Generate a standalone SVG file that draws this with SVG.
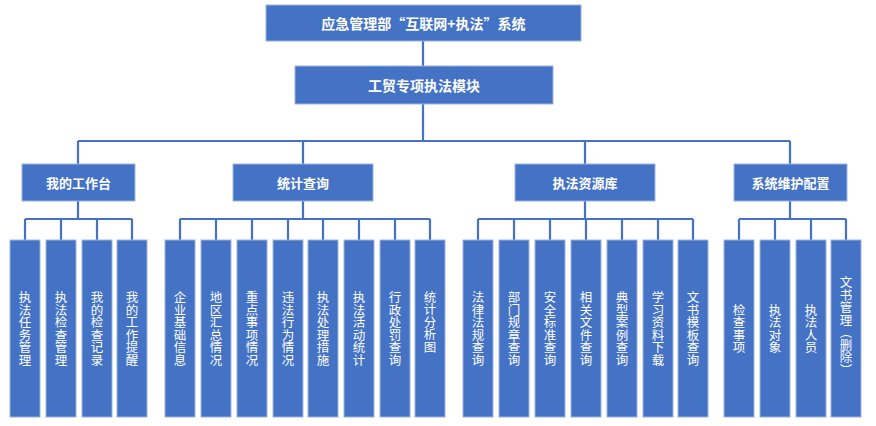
<svg xmlns="http://www.w3.org/2000/svg" width="876" height="426" viewBox="0 0 876 426">
<style>
.box{fill:#4472C4;stroke:#9DB3DD;stroke-width:1}
.ln{fill:none;stroke:#4472C4;stroke-width:2.2}
.t{fill:#fff;font-family:"Noto Sans CJK SC","Noto Sans",sans-serif;font-weight:bold;text-anchor:middle;dominant-baseline:central}
.v{fill:#fff;font-family:"Noto Sans CJK SC","Noto Sans",sans-serif;font-size:12.5px;writing-mode:vertical-rl;text-anchor:middle}
</style>
<rect width="876" height="426" fill="#fff"/>
<g id="connectors" class="ln">
<path d="M423 41V66M423 104V141M78 141H790M78 141V164M303 141V164M585 141V164M790 141V164"/>
<path d="M78 201V219M25 219H132M25 219V240M61 219V240M97 219V240M132 219V240"/>
<path d="M303 201V219M180 219H430M180 219V240M216 219V240M252 219V240M288 219V240M323 219V240M359 219V240M395 219V240M430 219V240"/>
<path d="M585 201V219M478 219H693M478 219V240M514 219V240M550 219V240M586 219V240M622 219V240M658 219V240M693 219V240"/>
<path d="M790 201V219M739 219H846M739 219V240M775 219V240M811 219V240M846 219V240"/>
</g>
<g id="root"><rect class="box" x="266" y="5" width="315" height="36"/><text class="t" x="423.5" y="23" font-size="14">应急管理部“互联网+执法”系统</text></g>
<g id="module"><rect class="box" x="295" y="66" width="258" height="38"/><text class="t" x="424" y="85" font-size="14">工贸专项执法模块</text></g>
<g id="workbench"><rect class="box" x="22" y="164" width="113" height="37"/><text class="t" x="78.5" y="182.5" font-size="13">我的工作台</text></g>
<g id="stats"><rect class="box" x="233" y="164" width="140" height="37"/><text class="t" x="303" y="182.5" font-size="13">统计查询</text></g>
<g id="resources"><rect class="box" x="515" y="164" width="140" height="37"/><text class="t" x="585" y="182.5" font-size="13">执法资源库</text></g>
<g id="sysconfig"><rect class="box" x="734" y="164" width="113" height="37"/><text class="t" x="790.5" y="182.5" font-size="13">系统维护配置</text></g>
<g id="l1"><rect class="box" x="10" y="240" width="30" height="177"/><text class="v" x="25" y="328.5">执法任务管理</text></g>
<g id="l2"><rect class="box" x="46" y="240" width="30" height="177"/><text class="v" x="61" y="328.5">执法检查管理</text></g>
<g id="l3"><rect class="box" x="82" y="240" width="30" height="177"/><text class="v" x="97" y="328.5">我的检查记录</text></g>
<g id="l4"><rect class="box" x="117" y="240" width="30" height="177"/><text class="v" x="132" y="328.5">我的工作提醒</text></g>
<g id="s1"><rect class="box" x="165" y="240" width="30" height="177"/><text class="v" x="180" y="328.5">企业基础信息</text></g>
<g id="s2"><rect class="box" x="201" y="240" width="30" height="177"/><text class="v" x="216" y="328.5">地区汇总情况</text></g>
<g id="s3"><rect class="box" x="237" y="240" width="30" height="177"/><text class="v" x="252" y="328.5">重点事项情况</text></g>
<g id="s4"><rect class="box" x="273" y="240" width="30" height="177"/><text class="v" x="288" y="328.5">违法行为情况</text></g>
<g id="s5"><rect class="box" x="308" y="240" width="30" height="177"/><text class="v" x="323" y="328.5">执法处理措施</text></g>
<g id="s6"><rect class="box" x="344" y="240" width="30" height="177"/><text class="v" x="359" y="328.5">执法活动统计</text></g>
<g id="s7"><rect class="box" x="380" y="240" width="30" height="177"/><text class="v" x="395" y="328.5">行政处罚查询</text></g>
<g id="s8"><rect class="box" x="415" y="240" width="30" height="177"/><text class="v" x="430" y="322">统计分析图</text></g>
<g id="r1"><rect class="box" x="463" y="240" width="30" height="177"/><text class="v" x="478" y="328.5">法律法规查询</text></g>
<g id="r2"><rect class="box" x="499" y="240" width="30" height="177"/><text class="v" x="514" y="328.5">部门规章查询</text></g>
<g id="r3"><rect class="box" x="535" y="240" width="30" height="177"/><text class="v" x="550" y="328.5">安全标准查询</text></g>
<g id="r4"><rect class="box" x="571" y="240" width="30" height="177"/><text class="v" x="586" y="328.5">相关文件查询</text></g>
<g id="r5"><rect class="box" x="607" y="240" width="30" height="177"/><text class="v" x="622" y="328.5">典型案例查询</text></g>
<g id="r6"><rect class="box" x="643" y="240" width="30" height="177"/><text class="v" x="658" y="328.5">学习资料下载</text></g>
<g id="r7"><rect class="box" x="678" y="240" width="30" height="177"/><text class="v" x="693" y="328.5">文书模板查询</text></g>
<g id="c1"><rect class="box" x="724" y="240" width="30" height="177"/><text class="v" x="739" y="328.5">检查事项</text></g>
<g id="c2"><rect class="box" x="760" y="240" width="30" height="177"/><text class="v" x="775" y="328.5">执法对象</text></g>
<g id="c3"><rect class="box" x="796" y="240" width="30" height="177"/><text class="v" x="811" y="328.5">执法人员</text></g>
<g id="c4"><rect class="box" x="831" y="240" width="30" height="177"/><text class="v" x="846" y="326">文书管理（删除）</text></g>
</svg>
